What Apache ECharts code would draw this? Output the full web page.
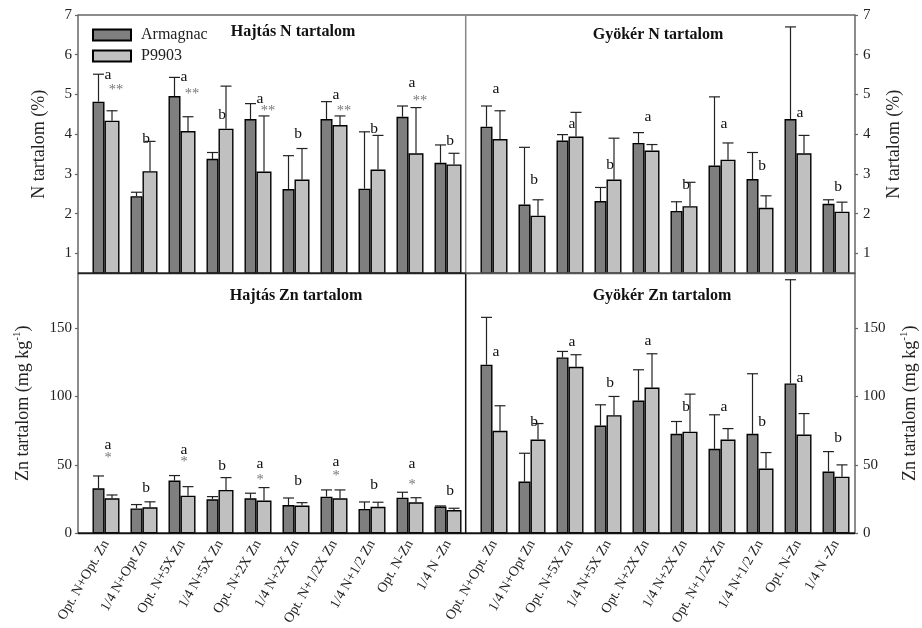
<!DOCTYPE html>
<html>
<head>
<meta charset="utf-8">
<script src="https://cdn.jsdelivr.net/npm/echarts@6/dist/echarts.min.js"></script>
<style>html,body{margin:0;padding:0;background:#fff}#c{width:922px;height:628px}</style>
</head>
<body>
<div id="c"></div>
<script>
// ---------- DATA ----------
const categories = ['Opt. N+Opt. Zn','1/4 N+Opt Zn','Opt. N+5X Zn','1/4 N+5X Zn','Opt. N+2X Zn','1/4 N+2X Zn','Opt. N+1/2X Zn','1/4 N+1/2 Zn','Opt. N-Zn','1/4 N -Zn'];
const seriesNames = ['Armagnac','P9903'];
const panelTitles = ['Hajtás N tartalom','Gyökér N tartalom','Hajtás Zn tartalom','Gyökér Zn tartalom'];

const nTicks = [1,2,3,4,5,6,7];
const znTicks = [0,50,100,150];

// Hajtás N (%)
const hajtasN_arm    = [4.82,2.44,4.96,3.38,4.38,2.62,4.38,2.63,4.44,3.28];
const hajtasN_armSd  = [0.69,0.10,0.47,0.16,0.39,0.84,0.44,1.43,0.27,0.45];
const hajtasN_p      = [4.34,3.07,4.08,4.14,3.06,2.86,4.23,3.11,3.52,3.24];
const hajtasN_pSd    = [0.25,0.75,0.36,1.07,1.40,0.78,0.23,0.86,1.15,0.28];
const hajtasN_letters = ['a','b','a','b','a','b','a','b','a','b'];
const hajtasN_letterY = [5.50,3.88,5.43,4.49,4.90,4.00,5.00,4.13,5.30,3.83];
const hajtasN_stars   = ['**',null,'**',null,'**',null,'**',null,'**',null];
const hajtasN_starY   = [5.10,null,5.00,null,4.58,null,4.58,null,4.84,null];

// Gyökér N (%)
const gyokerN_arm    = [4.19,2.23,3.84,2.32,3.78,2.07,3.21,2.87,4.38,2.25];
const gyokerN_armSd  = [0.52,1.44,0.15,0.34,0.26,0.23,1.73,0.67,2.32,0.10];
const gyokerN_p      = [3.88,1.95,3.94,2.86,3.59,2.19,3.36,2.15,3.52,2.05];
const gyokerN_pSd    = [0.71,0.40,0.61,1.04,0.15,0.60,0.42,0.30,0.45,0.24];
const gyokerN_letters = ['a','b','a','b','a','b','a','b','a','b'];
const gyokerN_letterY = [5.13,2.85,4.25,3.23,4.43,2.72,4.25,3.21,4.53,2.67];

// Hajtás Zn (mg kg-1)
const hajtasZn_arm   = [32.9,18.2,38.5,24.9,25.6,20.6,26.8,17.8,26.0,19.5];
const hajtasZn_armSd = [9.0,2.8,3.7,1.9,3.7,5.2,4.9,5.1,4.0,0.5];
const hajtasZn_p     = [25.6,19.0,27.5,31.7,23.9,20.3,25.6,19.4,22.7,17.0];
const hajtasZn_pSd   = [2.4,4.0,6.6,9.0,9.5,2.1,6.1,3.3,3.3,1.3];
const hajtasZn_letters = ['a','b','a','b','a','b','a','b','a','b'];
const hajtasZn_letterY = [64.6,32.9,61.0,49.5,50.7,38.5,52.0,35.3,50.7,31.2];
const hajtasZn_stars   = ['*',null,'*',null,'*',null,'*',null,'*',null];
const hajtasZn_starY   = [54.9,null,51.7,null,38.5,null,41.9,null,35.3,null];

// Gyökér Zn (mg kg-1)
const gyokerZn_arm   = [123.2,37.8,128.5,78.7,97.0,72.7,61.7,72.7,109.5,45.1];
const gyokerZn_armSd = [34.6,20.7,4.4,15.2,22.5,9.0,24.9,43.9,75.8,14.6];
const gyokerZn_p     = [74.9,68.5,121.7,86.3,106.5,74.3,68.5,47.3,72.2,41.4];
const gyokerZn_pSd   = [18.3,11.7,8.8,13.7,24.7,27.4,8.0,11.7,15.3,8.6];
const gyokerZn_letters = ['a','b','a','b','a','b','a','b','a','b'];
const gyokerZn_letterY = [132.4,81.2,139.7,109.7,140.9,92.6,92.6,81.7,113.4,69.5];

// ---------- STYLE / LAYOUT ----------
const FONT = '"Liberation Serif", "Times New Roman", serif';
const DARK = '#7f7f7f', LIGHT = '#c0c0c0';
const W_DARK = 12, W_LIGHT = 15;
const OFF_DARK = -(W_DARK + W_LIGHT) / 2 + W_DARK / 2;
const OFF_LIGHT = -(W_DARK + W_LIGHT) / 2 + W_DARK + W_LIGHT / 2;
const AXIS_GRAY = '#666';

const panels = [
  {arm: hajtasN_arm, armSd: hajtasN_armSd, p: hajtasN_p, pSd: hajtasN_pSd, letters: hajtasN_letters, letterY: hajtasN_letterY, stars: hajtasN_stars, starY: hajtasN_starY, starDx: 10},
  {arm: gyokerN_arm, armSd: gyokerN_armSd, p: gyokerN_p, pSd: gyokerN_pSd, letters: gyokerN_letters, letterY: gyokerN_letterY},
  {arm: hajtasZn_arm, armSd: hajtasZn_armSd, p: hajtasZn_p, pSd: hajtasZn_pSd, letters: hajtasZn_letters, letterY: hajtasZn_letterY, stars: hajtasZn_stars, starY: hajtasZn_starY, starDx: 2},
  {arm: gyokerZn_arm, armSd: gyokerZn_armSd, p: gyokerZn_p, pSd: gyokerZn_pSd, letters: gyokerZn_letters, letterY: gyokerZn_letterY}
];

function errRender(params, api) {
  const i = api.value(0);
  const children = [];
  [[1, 2, OFF_DARK], [3, 4, OFF_LIGHT]].forEach(function (d) {
    const v = api.value(d[0]), s = api.value(d[1]);
    const p0 = api.coord([i, v]);
    const p1 = api.coord([i, v + s]);
    const x = p0[0] + d[2];
    children.push({type: 'line', shape: {x1: x, y1: p0[1], x2: x, y2: p1[1]}, style: {stroke: '#222', lineWidth: 1.2}});
    children.push({type: 'line', shape: {x1: x - 5.5, y1: p1[1], x2: x + 5.5, y2: p1[1]}, style: {stroke: '#222', lineWidth: 1.2}});
  });
  return {type: 'group', children: children};
}

function textSeries(idx, ys, texts, dx, color, size) {
  const data = [];
  ys.forEach(function (y, i) { if (y != null && texts[i]) data.push([i, y]); });
  return {
    type: 'custom', xAxisIndex: idx, yAxisIndex: idx, z: 5, silent: true,
    data: data,
    renderItem: function (params, api) {
      const i = api.value(0);
      const pt = api.coord([i, api.value(1)]);
      return {type: 'text', x: pt[0] + dx, y: pt[1],
        style: {text: texts[i], fill: color, fontSize: size, fontFamily: FONT, align: 'center', verticalAlign: 'middle'}};
    }
  };
}

const grids = [
  {left: 87, top: 15, width: 380, height: 258.3},
  {left: 475, top: 15, width: 380, height: 258.3},
  {left: 87, top: 273.3, width: 380, height: 260},
  {left: 475, top: 273.3, width: 380, height: 260}
];

const xAxes = grids.map(function (g, i) {
  const bottom = i >= 2;
  return {
    type: 'category', gridIndex: i, data: categories,
    axisLine: {show: false}, axisTick: {show: false},
    axisLabel: {show: bottom, interval: 0, rotate: 60, margin: 8, fontSize: 14, fontFamily: FONT, color: '#222'}
  };
});

const znName = '{n|Zn tartalom (mg kg}{s|-1}{n|)}';
const richName = {n: {fontSize: 18, fontFamily: FONT, color: '#222', lineHeight: 22}, s: {fontSize: 11, fontFamily: FONT, color: '#222', verticalAlign: 'top', lineHeight: 11}};

function yAx(i) {
  const isN = i < 2, isLeft = i % 2 === 0;
  const ticks = isN ? nTicks : znTicks;
  return {
    type: 'value', gridIndex: i, position: isLeft ? 'left' : 'right', offset: isLeft ? 9 : 0,
    min: isN ? 0.5 : 0, max: isN ? 7 : 190,
    splitLine: {show: false},
    axisLine: {show: true, lineStyle: {color: AXIS_GRAY, width: 1.5}},
    axisTick: {show: true, length: 3, customValues: ticks, lineStyle: {color: AXIS_GRAY, width: 1.2}},
    axisLabel: {customValues: ticks, margin: isLeft ? 6 : 8, fontSize: 15, fontFamily: FONT, color: '#222'},
    name: isN ? 'N tartalom (%)' : znName,
    nameLocation: 'middle', nameRotate: 90, nameGap: isN ? 30 : 44,
    nameTextStyle: isN ? {fontSize: 18, fontFamily: FONT, color: '#222'} : {rich: richName}
  };
}

const series = [];
panels.forEach(function (pn, i) {
  series.push({type: 'bar', name: seriesNames[0], xAxisIndex: i, yAxisIndex: i, data: pn.arm, barWidth: W_DARK, barGap: '0%', z: 2,
    itemStyle: {color: DARK, borderColor: '#000', borderWidth: 1.4}});
  series.push({type: 'bar', name: seriesNames[1], xAxisIndex: i, yAxisIndex: i, data: pn.p, barWidth: W_LIGHT, barGap: '0%', z: 2,
    itemStyle: {color: LIGHT, borderColor: '#000', borderWidth: 1.4}});
  series.push({type: 'custom', xAxisIndex: i, yAxisIndex: i, z: 3, silent: true,
    data: categories.map(function (c, k) { return [k, pn.arm[k], pn.armSd[k], pn.p[k], pn.pSd[k]]; }),
    encode: {x: 0, y: 1},
    renderItem: errRender});
  series.push(textSeries(i, pn.letterY, pn.letters, 2, '#111', 15.5));
  if (pn.stars) series.push(textSeries(i, pn.starY, pn.stars, pn.starDx, '#777', 14.5));
});

const titlePos = [[293, 32], [658, 35], [296, 296], [662, 296]];
const graphics = [];
panelTitles.forEach(function (t, i) {
  graphics.push({type: 'text', x: titlePos[i][0], y: titlePos[i][1], z: 10,
    style: {text: t, fontSize: 16, fontWeight: 'bold', fontFamily: FONT, fill: '#111', align: 'center', verticalAlign: 'middle'}});
});
function ln(x1, y1, x2, y2, color, w) {
  graphics.push({type: 'line', z: 9, shape: {x1: x1, y1: y1, x2: x2, y2: y2}, style: {stroke: color, lineWidth: w}});
}
ln(78, 15, 855, 15, AXIS_GRAY, 1.3);
ln(465.7, 15, 465.7, 273.3, '#888', 1.5);
ln(465.7, 273.3, 465.7, 533.3, '#111', 1.5);
ln(78, 273.3, 465.7, 273.3, '#222', 2);
ln(465.7, 273.3, 855, 273.3, '#555', 2);
ln(78, 533.3, 855, 533.3, '#111', 2);

const chart = echarts.init(document.getElementById('c'), null, {renderer: 'canvas'});
chart.setOption({
  animation: false,
  backgroundColor: '#fff',
  grid: grids,
  xAxis: xAxes,
  yAxis: [0, 1, 2, 3].map(yAx),
  legend: {
    data: seriesNames, orient: 'vertical', left: 87, top: 22, itemWidth: 38, itemHeight: 11, itemGap: 5, icon: 'rect',
    textStyle: {fontSize: 16, fontFamily: FONT, color: '#222', padding: [0, 0, 0, 5]}
  },
  series: series,
  graphic: graphics
});
</script>
</body>
</html>
